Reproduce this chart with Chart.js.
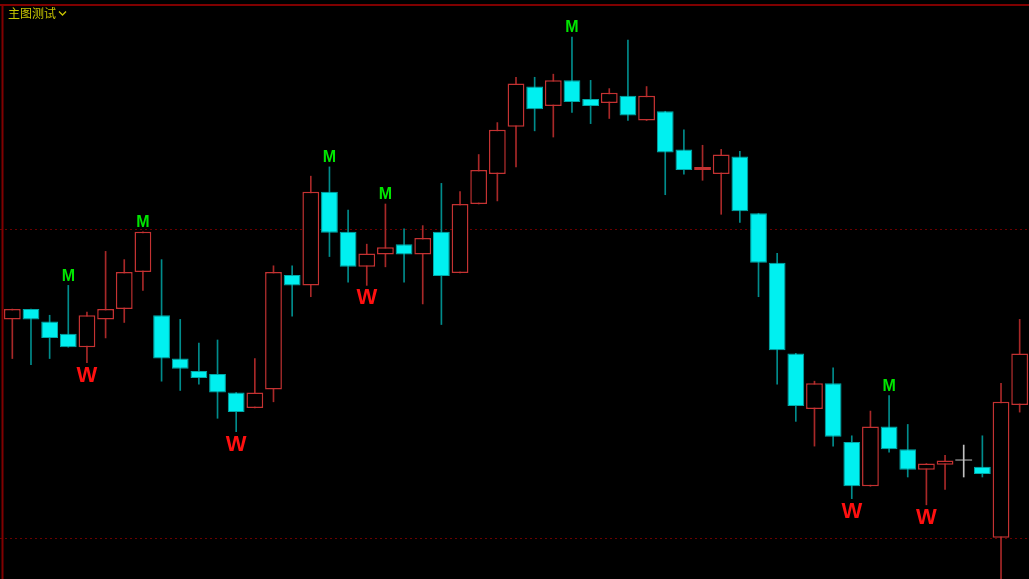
<!DOCTYPE html>
<html>
<head>
<meta charset="utf-8">
<script src="https://cdn.jsdelivr.net/npm/chart.js@4.4.0/dist/chart.umd.min.js"></script>
<style>
  html, body { margin: 0; padding: 0; background: #000; overflow: hidden; }
  #wrap { position: relative; width: 1029px; height: 579px; }
  #title {
    position: absolute; left: 8px; top: 5px;
    font: 12px "Noto Sans CJK SC", sans-serif; color: #c8c400;
    line-height: 16px; display: flex; align-items: center;
  }
  #title svg { margin-left: 2px; }
</style>
</head>
<body>
<div id="wrap">
  <canvas id="kChart" width="1029" height="579"></canvas>
  <div id="title">主图测试<svg width="9" height="7" viewBox="0 0 9 7"><polyline points="1,1.5 4.5,5 8,1.5" fill="none" stroke="#c8c400" stroke-width="1.3"/></svg></div>
</div>
<script>
// candle data
var opens  = [11.12, 11.22, 11.10, 10.98, 10.85, 11.12, 11.22, 11.58, 11.16, 10.74,
              10.62, 10.59, 10.41, 10.26, 10.44, 11.55, 11.45, 12.36, 11.97, 11.63,
              11.75, 11.85, 11.75, 11.97, 11.57, 12.24, 12.53, 12.99, 13.38, 13.19,
              13.44, 13.26, 13.22, 13.29, 13.05, 13.14, 12.77, 12.57, 12.53, 12.70,
              12.15, 11.67, 10.79, 10.25, 10.50, 9.93, 9.50, 10.08, 9.86, 9.66,
              9.71, 9.75, 9.69, 9.00, 10.29];
var closes = [11.22, 11.12, 10.94, 10.85, 11.16, 11.22, 11.58, 11.97, 10.74, 10.64,
              10.55, 10.41, 10.22, 10.41, 11.58, 11.45, 12.36, 11.96, 11.63, 11.76,
              11.82, 11.75, 11.91, 11.54, 12.24, 12.57, 12.96, 13.41, 13.16, 13.44,
              13.23, 13.19, 13.32, 13.10, 13.29, 12.74, 12.57, 12.60, 12.72, 12.17,
              11.67, 10.82, 10.28, 10.50, 9.98, 9.50, 10.08, 9.86, 9.66, 9.72,
              9.75, 9.75, 9.62, 10.32, 10.79];
var highs  = [11.22, 11.22, 11.16, 11.45, 11.19, 11.78, 11.70, 11.97, 11.70, 11.12,
              10.89, 10.92, 10.41, 10.74, 11.64, 11.64, 12.51, 12.60, 12.18, 11.85,
              12.24, 12.00, 12.03, 12.44, 12.36, 12.72, 13.03, 13.47, 13.47, 13.50,
              13.86, 13.44, 13.36, 13.83, 13.38, 13.14, 12.96, 12.81, 12.77, 12.75,
              12.15, 11.76, 10.79, 10.52, 10.65, 9.99, 10.23, 10.38, 10.10, 9.72,
              9.80, 9.90, 9.99, 10.50, 11.12];
var lows   = [10.74, 10.68, 10.74, 10.85, 10.70, 10.94, 11.09, 11.40, 10.52, 10.43,
              10.49, 10.16, 10.03, 10.26, 10.32, 11.15, 11.34, 11.73, 11.48, 11.45,
              11.63, 11.48, 11.27, 11.07, 11.57, 12.24, 12.27, 12.60, 12.95, 12.89,
              13.13, 13.02, 13.07, 13.05, 13.05, 12.33, 12.53, 12.47, 12.14, 12.06,
              11.34, 10.49, 10.13, 9.89, 9.89, 9.38, 9.50, 9.83, 9.59, 9.32,
              9.47, 9.59, 9.59, 8.49, 10.22];
// candles flagged with M (tops) and W (bottoms)
var mMarks = [3, 7, 17, 20, 30, 47];
var wMarks = [4, 12, 19, 45, 49];
// dotted price levels
var levels = [12.00, 9.00];

var labels = opens.map(function (o, i) { return i + 1; });

var RED = "#c43232", RED_WICK = "#a82828";
var CYAN = "#00f0f0", CYAN_EDGE = "#00a8a8", CYAN_WICK = "#008c8c";
var DOJI = "#c0c0c0";

function kind(i) {
    if (closes[i] > opens[i]) return "up";
    if (closes[i] < opens[i]) return "down";
    return "flat";
}

var frame = {
    id: "frame",
    beforeDatasetsDraw(chart) {
        const { ctx, scales: { y } } = chart;
        ctx.save();
        ctx.strokeStyle = "#6a0000";
        ctx.lineWidth = 1;
        ctx.setLineDash([2, 3]);
        levels.forEach(function (v) {
            var py = Math.round(y.getPixelForValue(v)) + 0.5;
            ctx.beginPath();
            ctx.moveTo(0, py);
            ctx.lineTo(chart.width, py);
            ctx.stroke();
        });
        ctx.setLineDash([]);
        ctx.strokeStyle = "#800000";
        ctx.lineWidth = 2;
        ctx.beginPath();
        ctx.moveTo(0, 5);
        ctx.lineTo(chart.width, 5);
        ctx.moveTo(2.5, 5);
        ctx.lineTo(2.5, chart.height);
        ctx.stroke();
        ctx.restore();
    },
    afterDatasetsDraw(chart) {
        const { ctx, scales: { x, y } } = chart;
        ctx.save();
        ctx.textAlign = "center";
        ctx.textBaseline = "middle";
        ctx.fillStyle = "#00e600";
        ctx.font = "bold 16px 'Liberation Sans', Arial, sans-serif";
        mMarks.forEach(function (i) {
            ctx.fillText("M", x.getPixelForValue(i), y.getPixelForValue(highs[i]) - 9);
        });
        ctx.fillStyle = "#ff1010";
        ctx.font = "bold 22px 'Liberation Sans', Arial, sans-serif";
        wMarks.forEach(function (i) {
            ctx.fillText("W", x.getPixelForValue(i), y.getPixelForValue(lows[i]) + 13);
        });
        ctx.restore();
    },
};

var ctx = document.getElementById("kChart");
var kChart = new Chart(ctx, {
    type: "bar",
    data: {
        labels: labels,
        datasets: [
            {
                label: "wick",
                data: lows.map(function (l, i) { return [l, highs[i]]; }),
                backgroundColor: opens.map(function (o, i) {
                    var k = kind(i);
                    return k === "up" ? RED_WICK : k === "down" ? CYAN_WICK : DOJI;
                }),
                barThickness: 1,
                grouped: false,
                order: 2,
            },
            {
                label: "body",
                data: opens.map(function (o, i) { return [o, closes[i]]; }),
                backgroundColor: opens.map(function (o, i) {
                    var k = kind(i);
                    return k === "up" ? "#000" : k === "down" ? CYAN : DOJI;
                }),
                borderColor: opens.map(function (o, i) {
                    var k = kind(i);
                    return k === "up" ? RED : k === "down" ? CYAN_EDGE : DOJI;
                }),
                borderWidth: opens.map(function (o, i) {
                    return kind(i) === "up" ? 1.5 : kind(i) === "down" ? 1 : 0;
                }),
                borderSkipped: false,
                minBarLength: 1,
                barPercentage: 0.9,
                categoryPercentage: 1,
                grouped: false,
                order: 1,
            },
        ],
    },
    options: {
        responsive: false,
        animation: false,
        devicePixelRatio: 1,
        layout: { padding: { left: 3, right: 0, top: 0, bottom: 0 } },
        scales: {
            x: { display: false, offset: true, grid: { display: false } },
            y: { display: false, min: 8.60, max: 14.22 },
        },
        plugins: {
            legend: { display: false },
            tooltip: { enabled: false },
        },
    },
    plugins: [frame],
});
</script>
</body>
</html>
